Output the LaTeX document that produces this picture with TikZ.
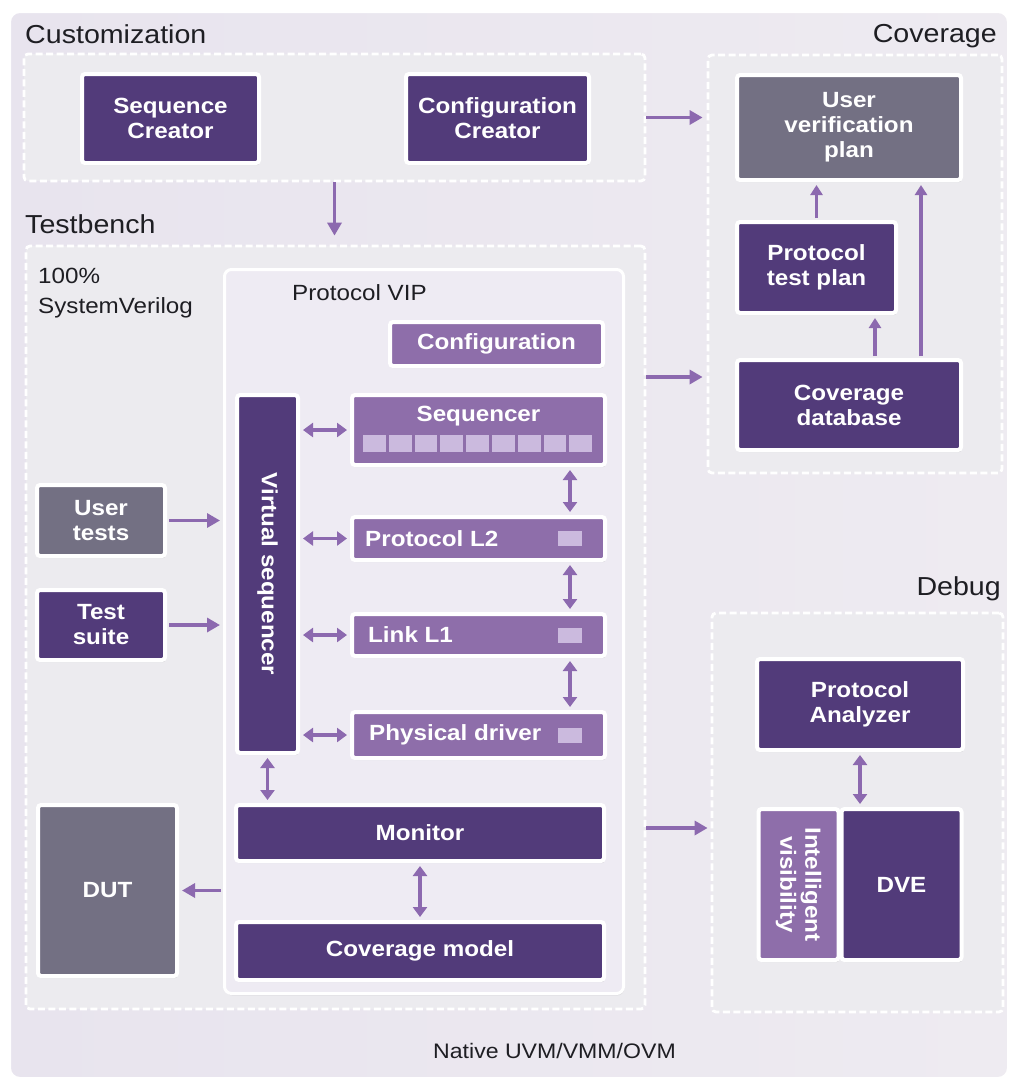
\documentclass[tikz,border=0pt]{standalone}
\usepackage{fontspec}
\setmainfont{Liberation Sans}[FakeStretch=1.1]
\usetikzlibrary{arrows.meta,shadows,calc}
\definecolor{dpurple}{RGB}{82,59,122}
\definecolor{mpurple}{RGB}{142,110,170}
\definecolor{gboxc}{RGB}{115,112,131}
\definecolor{lightsq}{RGB}{203,186,222}
\definecolor{arrowc}{RGB}{140,105,175}
\definecolor{bgc}{RGB}{232,228,238}
\definecolor{bgc2}{RGB}{238,235,241}
\definecolor{zonefill}{RGB}{236,235,239}
\definecolor{vipfill}{RGB}{238,235,243}
\definecolor{labc}{RGB}{30,30,35}
\tikzset{
  box/.style={draw=white, line width=4pt, rounded corners=3pt, inner sep=0pt, align=center,
    text=white, font=\bfseries\fontsize{22}{25}\selectfont,
    drop shadow={opacity=0.25, shadow xshift=0.8pt, shadow yshift=-2.2pt}},
  dbox/.style={box, fill=dpurple},
  mbox/.style={box, fill=mpurple},
  gbox/.style={box, fill=gboxc},
  boxtxt/.style={text=white, font=\bfseries\fontsize{22}{25}\selectfont, inner sep=0pt, align=center},
  zone/.style={draw=white, line width=2.8pt, dash pattern=on 7pt off 3.5pt, fill=zonefill,
    rounded corners=4pt, inner sep=0pt},
  seclbl/.style={font=\fontsize{26}{30}\selectfont, text=labc, inner sep=0pt},
  sublbl/.style={font=\fontsize{22}{28}\selectfont, text=labc, inner sep=0pt, align=left},
  arr/.style={draw=arrowc, line width=3.8pt, -{Triangle[length=13pt,width=14pt]}},
  varr/.style={draw=arrowc, line width=3.5pt, -{Triangle[length=10pt,width=12pt]}},
  darr/.style={draw=arrowc, line width=3.2pt, {Triangle[length=10pt,width=14pt]}-{Triangle[length=10pt,width=14pt]}},
  sq/.style={fill=lightsq, draw=none, inner sep=0pt, minimum width=24pt, minimum height=15pt},
}
\begin{document}
\begin{tikzpicture}[x=1pt,y=-1pt]
\useasboundingbox (0,0) rectangle (1013,1082);
\fill[white] (0,0) rectangle (1013,1082);
\draw[white, line width=2pt, left color=bgc, right color=bgc2, rounded corners=10pt] (10,12) rectangle (1008,1078);

% section labels
\node[seclbl, anchor=base west] (lcust) at (25,43) {Customization};
\node[seclbl, anchor=base west] (ltb) at (25,233) {Testbench};
\node[seclbl, anchor=base east] (lcov) at (997,42) {Coverage};
\node[seclbl, anchor=base east] (ldbg) at (1001,595) {Debug};
\node[sublbl, anchor=base west, font=\fontsize{21}{25}\selectfont] (lnative) at (433,1058) {Native UVM/VMM/OVM};

% zones
\node[zone, minimum width=621pt, minimum height=127pt] (cust) at (334.5,117.5) {};
\node[zone, minimum width=619pt, minimum height=763pt] (tb) at (335.5,627.5) {};
\node[zone, minimum width=294pt, minimum height=418pt] (cov) at (855,264) {};
\node[zone, minimum width=291pt, minimum height=399pt] (dbg) at (857.5,812.5) {};

% customization
\node[dbox, minimum width=177pt, minimum height=89pt] (seqc) at (170.5,118.5) {Sequence\\Creator};
\node[dbox, minimum width=183pt, minimum height=89pt] (confc) at (497.5,118.5) {Configuration\\Creator};

% testbench
\node[sublbl, anchor=base west] (l100) at (38,283) {100\%};
\node[sublbl, anchor=base west] (lsv) at (38,313) {SystemVerilog};
\node[draw=white, line width=3pt, fill=vipfill, rounded corners=7pt, inner sep=0pt,
  minimum width=399pt, minimum height=724pt,
  drop shadow={opacity=0.15, shadow xshift=0.8pt, shadow yshift=-2pt}] (vip) at (424,631.5) {};
\node[sublbl, anchor=base west] (lvip) at (292,300) {Protocol VIP};

\node[mbox, minimum width=213pt, minimum height=44pt] (config) at (496.5,344) {Configuration};
\node[mbox, minimum width=253pt, minimum height=70pt] (seq) at (478.5,430) {};
\node[boxtxt] (seqtxt) at (478.5,416) {Sequencer};
\foreach \i in {0,...,8}{
  \fill[lightsq] ({363+\i*25.8},435) rectangle ({363+\i*25.8+22.8},452);
}
\node[mbox, minimum width=253pt, minimum height=43pt] (l2) at (478.5,538.5) {};
\node[boxtxt, anchor=west] (l2txt) at (365,538.5) {Protocol L2};
\node[sq] (l2sq) at (570,538.5) {};
\node[mbox, minimum width=253pt, minimum height=42pt] (l1) at (478.5,635) {};
\node[boxtxt, anchor=west] (l1txt) at (368,635) {Link L1};
\node[sq] (l1sq) at (570,635) {};
\node[mbox, minimum width=253pt, minimum height=46pt] (phys) at (478.5,735) {};
\node[boxtxt, anchor=west] (phystxt) at (369,735) {Physical driver};
\node[sq] (physsq) at (570,735) {};

\node[dbox, minimum width=61pt, minimum height=358pt] (vseq) at (267.5,574) {};
\node[boxtxt, rotate=-90] (vseqtxt) at (vseq.center) {Virtual sequencer};

\node[gbox, minimum width=128pt, minimum height=71pt] (usert) at (101,520.5) {User\\tests};
\node[dbox, minimum width=128pt, minimum height=70pt] (tsuite) at (101,625) {Test\\suite};
\node[dbox, minimum width=368pt, minimum height=56pt] (mon) at (420,833) {Monitor};
\node[dbox, minimum width=368pt, minimum height=58pt] (covm) at (420,951) {Coverage model};
\node[gbox, minimum width=139pt, minimum height=171pt] (dut) at (107.5,890.5) {DUT};

% coverage
\node[gbox, minimum width=224pt, minimum height=105pt] (uvp) at (849,127.5) {User\\verification\\plan};
\node[dbox, minimum width=159pt, minimum height=91pt] (ptp) at (816.5,267.5) {Protocol\\test plan};
\node[dbox, minimum width=224pt, minimum height=90pt] (cdb) at (849,405) {Coverage\\database};

% debug
\node[dbox, minimum width=206pt, minimum height=91pt] (pa) at (860,704.5) {Protocol\\Analyzer};
\node[mbox, minimum width=80pt, minimum height=151pt] (iv) at (798.5,884.5) {};
\node[boxtxt, rotate=-90] (ivtxt) at (iv.center) {Intelligent\\visibility};
\node[dbox, minimum width=120pt, minimum height=151pt] (dve) at (901.5,884.5) {DVE};

% connectors
\coordinate (ycov) at (0,377);
\coordinate (ydbg) at (0,828);
\coordinate (cd1) at ($(cdb.north)+(26,0)$);
\coordinate (cd2) at ($(cdb.north)+(72,0)$);
\draw[arr, shorten >=9pt] (cust.south) -- (cust.south |- tb.north);
\draw[arr, shorten >=4pt] (cust.east) -- (cust.east -| cov.west);
\draw[arr, shorten >=4pt] (tb.east |- ycov) -- (cov.west |- ycov);
\draw[arr, shorten >=3pt] (tb.east |- ydbg) -- (dbg.west |- ydbg);
\draw[arr, line width=3.2pt, shorten <=2pt, shorten >=3pt] (usert.east) -- (usert.east -| vip.west);
\draw[arr, line width=3.2pt, shorten <=2pt, shorten >=3pt] (tsuite.east) -- (tsuite.east -| vip.west);
\draw[arr, line width=3.2pt, shorten <=2pt, shorten >=3pt] (dut.east -| vip.west) -- (dut.east);

\draw[darr, shorten <=3pt, shorten >=3pt] (seq.west -| vseq.east) -- (seq.west);
\draw[darr, shorten <=3pt, shorten >=3pt] (l2.west -| vseq.east) -- (l2.west);
\draw[darr, shorten <=3pt, shorten >=3pt] (l1.west -| vseq.east) -- (l1.west);
\draw[darr, shorten <=3pt, shorten >=3pt] (phys.west -| vseq.east) -- (phys.west);
\draw[darr, shorten <=3pt, shorten >=3pt] (l2sq |- seq.south) -- (l2sq |- l2.north);
\draw[darr, shorten <=3pt, shorten >=3pt] (l1sq |- l2.south) -- (l1sq |- l1.north);
\draw[darr, shorten <=3pt, shorten >=3pt] (physsq |- l1.south) -- (physsq |- phys.north);
\draw[darr, shorten <=3pt, shorten >=3pt] (vseq.south) -- (vseq.south |- mon.north);
\draw[darr, shorten <=3pt, shorten >=3pt] (mon.south) -- (covm.north);
\draw[darr, shorten <=3pt, shorten >=3pt] (pa.south) -- (pa.south |- dve.north);

\draw[varr, shorten <=2pt, shorten >=3pt] (ptp.north) -- (ptp.north |- uvp.south);
\draw[varr, shorten <=2pt, shorten >=3pt] (cd1) -- (cd1 |- ptp.south);
\draw[varr, shorten <=2pt, shorten >=3pt] (cd2) -- (cd2 |- uvp.south);
\end{tikzpicture}
\end{document}
